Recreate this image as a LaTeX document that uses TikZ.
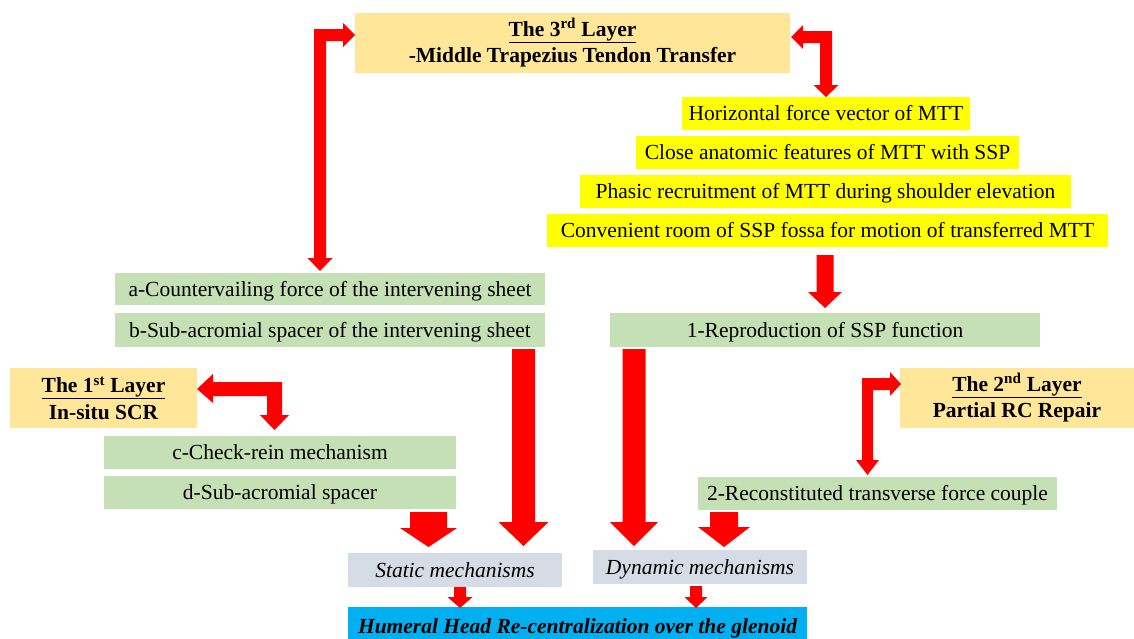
\documentclass[tikz,border=0pt]{standalone}
\usepackage{fontspec}
\setmainfont{Liberation Serif}
\definecolor{layerorange}{HTML}{FFE699}
\definecolor{itemgreen}{HTML}{C5E0B4}
\definecolor{itemyellow}{HTML}{FFFF00}
\definecolor{mechgray}{HTML}{D6DCE5}
\definecolor{resultblue}{HTML}{00B0F0}
\definecolor{arrowred}{HTML}{FF0000}
\newcommand\blockdown[6]{% x, ytop, yhead, ytip, shaft half, head half
  \fill[arrowred] (#1-#5,#2) -- (#1+#5,#2) -- (#1+#5,#3) -- (#1+#6,#3) -- (#1,#4)
    -- (#1-#6,#3) -- (#1-#5,#3) -- cycle;}
\begin{document}
\begin{tikzpicture}[x=1pt,y=-1pt,
  base/.style={inner sep=0pt, outer sep=0pt, text=black, font=\fontsize{21.5}{25}\selectfont},
  oneline/.style={base, text height=18pt, text depth=4pt},
  layerbox/.style={base, fill=layerorange, align=center, font=\fontsize{21.5}{26.5}\selectfont\bfseries},
  greenbox/.style={oneline, fill=itemgreen},
  yellowbox/.style={oneline, fill=itemyellow},
  graybox/.style={oneline, fill=mechgray, font=\fontsize{21.5}{25}\selectfont\itshape},
  bluebox/.style={oneline, fill=resultblue, font=\fontsize{21.5}{25}\selectfont\bfseries\itshape}]
\useasboundingbox (0,0) rectangle (1134,638);
% layer boxes
\node[layerbox, minimum width=435, minimum height=60] (L3) at (572.5,43)
  {\raisebox{0pt}[0pt][0pt]{}\underline{The 3\textsuperscript{rd} Layer}\\-Middle Trapezius Tendon Transfer};
\node[layerbox, minimum width=187, minimum height=60] (L1) at (103.5,398)
  {\underline{The 1\textsuperscript{st} Layer}\\In-situ SCR};
\node[layerbox, minimum width=234, minimum height=60] (L2) at (1017,398)
  {\underline{The 2\textsuperscript{nd} Layer}\\Partial RC Repair};
% yellow boxes
\node[yellowbox, minimum width=288, minimum height=33] (y1) at (826,113.5) {Horizontal force vector of MTT};
\node[yellowbox, minimum width=383, minimum height=33] (y2) at (827.5,152.5) {Close anatomic features of MTT with SSP};
\node[yellowbox, minimum width=491, minimum height=33] (y3) at (825.5,191.5) {Phasic recruitment of MTT during shoulder elevation};
\node[yellowbox, minimum width=561, minimum height=33] (y4) at (827.5,230.5) {Convenient room of SSP fossa for motion of transferred MTT};
% green boxes
\node[greenbox, minimum width=430, minimum height=32] (ga) at (330,289) {a-Countervailing force of the intervening sheet};
\node[greenbox, minimum width=430, minimum height=34] (gb) at (330,330) {b-Sub-acromial spacer of the intervening sheet};
\node[greenbox, minimum width=430, minimum height=34] (g1) at (825,330) {1-Reproduction of SSP function};
\node[greenbox, minimum width=352, minimum height=33] (gc) at (280,452.5) {c-Check-rein mechanism};
\node[greenbox, minimum width=352, minimum height=33] (gd) at (280,492.5) {d-Sub-acromial spacer};
\node[greenbox, minimum width=359, minimum height=33] (g2) at (877.5,493.5) {2-Reconstituted transverse force couple};
% mechanisms
\node[graybox, minimum width=214, minimum height=34] (st) at (455,570) {Static mechanisms};
\node[graybox, minimum width=214, minimum height=34] (dy) at (700,567) {Dynamic mechanisms};
\node[bluebox, minimum width=459, minimum height=38] (hh) at (577.5,626) {Humeral Head Re-centralization over the glenoid};
% elbow double arrows
\fill[arrowred] (320,271) -- (332.5,258) -- (326,258) -- (326,41) -- (343,41) -- (343,47)
  -- (355,35) -- (343,23) -- (343,29) -- (314,29) -- (314,258) -- (307.5,258) -- cycle;
\fill[arrowred] (791,37) -- (803,25) -- (803,31) -- (832,31) -- (832,85) -- (838.5,85)
  -- (826,97) -- (813.5,85) -- (820,85) -- (820,43) -- (803,43) -- (803,49) -- cycle;
\fill[arrowred] (197,389) -- (213,374) -- (213,382) -- (282,382) -- (282,415) -- (289,415)
  -- (274.5,430) -- (260,415) -- (267,415) -- (267,396) -- (213,396) -- (213,403) -- cycle;
\fill[arrowred] (901,384) -- (890,372) -- (890,378) -- (862,378) -- (862,460) -- (856,460)
  -- (867.5,475) -- (879,460) -- (873,460) -- (873,390) -- (890,390) -- (890,396) -- cycle;
% down arrows
\blockdown{825}{255}{292}{308}{8.5}{17}
\blockdown{428.5}{512}{528}{547}{18.5}{28.5}
\blockdown{523.5}{349}{522}{546}{11.5}{25}
\blockdown{634}{349}{522}{546}{11.5}{24}
\blockdown{724}{512}{527}{547}{14}{26}
\blockdown{460}{587}{597}{608}{6}{12.5}
\blockdown{696}{586}{597}{608}{6}{11.5}
\end{tikzpicture}
\end{document}
